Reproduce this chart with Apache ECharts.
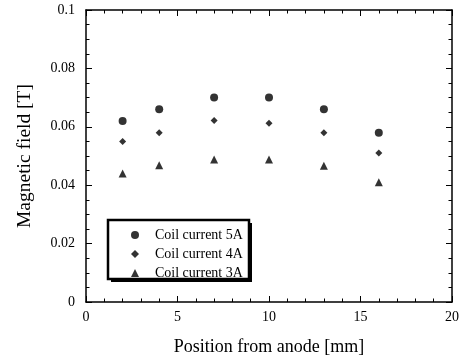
<!DOCTYPE html>
<html><head><meta charset="utf-8">
<script src="https://cdn.jsdelivr.net/npm/echarts@6/dist/echarts.min.js"></script>
<style>html,body{margin:0;padding:0;background:#fff}#c{width:464px;height:363px}</style>
</head><body><div id="c"></div>
<script>
const positions = [2, 4, 7, 10, 13, 16];
const current5A = [0.062, 0.066, 0.070, 0.070, 0.066, 0.058];
const current4A = [0.055, 0.058, 0.0622, 0.0612, 0.058, 0.051];
const current3A = [0.044, 0.0468, 0.0488, 0.0488, 0.0467, 0.041];
const seriesNames = ['Coil current 5A', 'Coil current 4A', 'Coil current 3A'];
const xTicks = [0, 5, 10, 15, 20];
const yTicks = [0, 0.02, 0.04, 0.06, 0.08, 0.1];

const font = 'Liberation Serif';
const pair = arr => positions.map((x, i) => [x, arr[i]]);
function axisBase(minorSplit) {
  return {
    axisLine: {show: true, onZero: false, lineStyle: {color: '#000', width: 1.5}},
    axisTick: {show: true, inside: true, length: 6, lineStyle: {color: '#000', width: 1}},
    minorTick: {show: true, splitNumber: minorSplit, length: 3.5, lineStyle: {color: '#000', width: 1}},
    splitLine: {show: false}
  };
}
const chart = echarts.init(document.getElementById('c'), null, {renderer: 'canvas'});
chart.setOption({
  animation: false,
  backgroundColor: '#fff',
  textStyle: {fontFamily: font, color: '#000'},
  grid: {left: 86, top: 10, right: 12, bottom: 61},
  graphic: [
    {type: 'rect', z: 3, silent: true, shape: {x: 111, y: 223, width: 141, height: 59},
     style: {fill: '#000'}},
    {type: 'rect', z: 3, silent: true, shape: {x: 108, y: 220, width: 141, height: 59},
     style: {fill: '#fff', stroke: '#000', lineWidth: 2.5}}
  ],
  legend: {
    orient: 'vertical', left: 108, top: 220, z: 10,
    padding: [8, 5, 2, 23], itemGap: 5, itemWidth: 8, itemHeight: 8,
    textStyle: {fontFamily: font, fontSize: 14, lineHeight: 14, color: '#000', padding: [0, 0, 0, 11]},
    data: seriesNames
  },
  xAxis: [
    Object.assign(axisBase(5), {
      type: 'value', min: xTicks[0], max: xTicks[xTicks.length - 1], interval: 5,
      name: 'Position from anode [mm]', nameLocation: 'middle', nameGap: 36,
      nameTextStyle: {fontFamily: font, fontSize: 18, color: '#000'},
      axisLabel: {fontFamily: font, fontSize: 14, color: '#000', margin: 8}
    }),
    Object.assign(axisBase(5), {
      type: 'value', position: 'top', min: 0, max: 20, interval: 5,
      axisLabel: {show: false}
    })
  ],
  yAxis: [
    Object.assign(axisBase(4), {
      type: 'value', min: yTicks[0], max: yTicks[yTicks.length - 1], interval: 0.02,
      name: 'Magnetic field [T]', nameLocation: 'middle', nameGap: 51,
      nameTextStyle: {fontFamily: font, fontSize: 19.5, color: '#000'},
      axisLabel: {fontFamily: font, fontSize: 14, color: '#000', margin: 11,
        formatter: v => String(+v.toFixed(2))}
    }),
    Object.assign(axisBase(4), {
      type: 'value', position: 'right', min: 0, max: 0.1, interval: 0.02,
      axisLabel: {show: false}
    })
  ],
  series: [
    {name: seriesNames[0], type: 'scatter', symbol: 'circle', symbolSize: 8,
     itemStyle: {color: '#000'}, data: pair(current5A)},
    {name: seriesNames[1], type: 'scatter', symbol: 'diamond', symbolSize: 7,
     itemStyle: {color: '#000'}, data: pair(current4A)},
    {name: seriesNames[2], type: 'scatter', symbol: 'triangle', symbolSize: 8,
     itemStyle: {color: '#000'}, data: pair(current3A)}
  ]
});
</script></body></html>
